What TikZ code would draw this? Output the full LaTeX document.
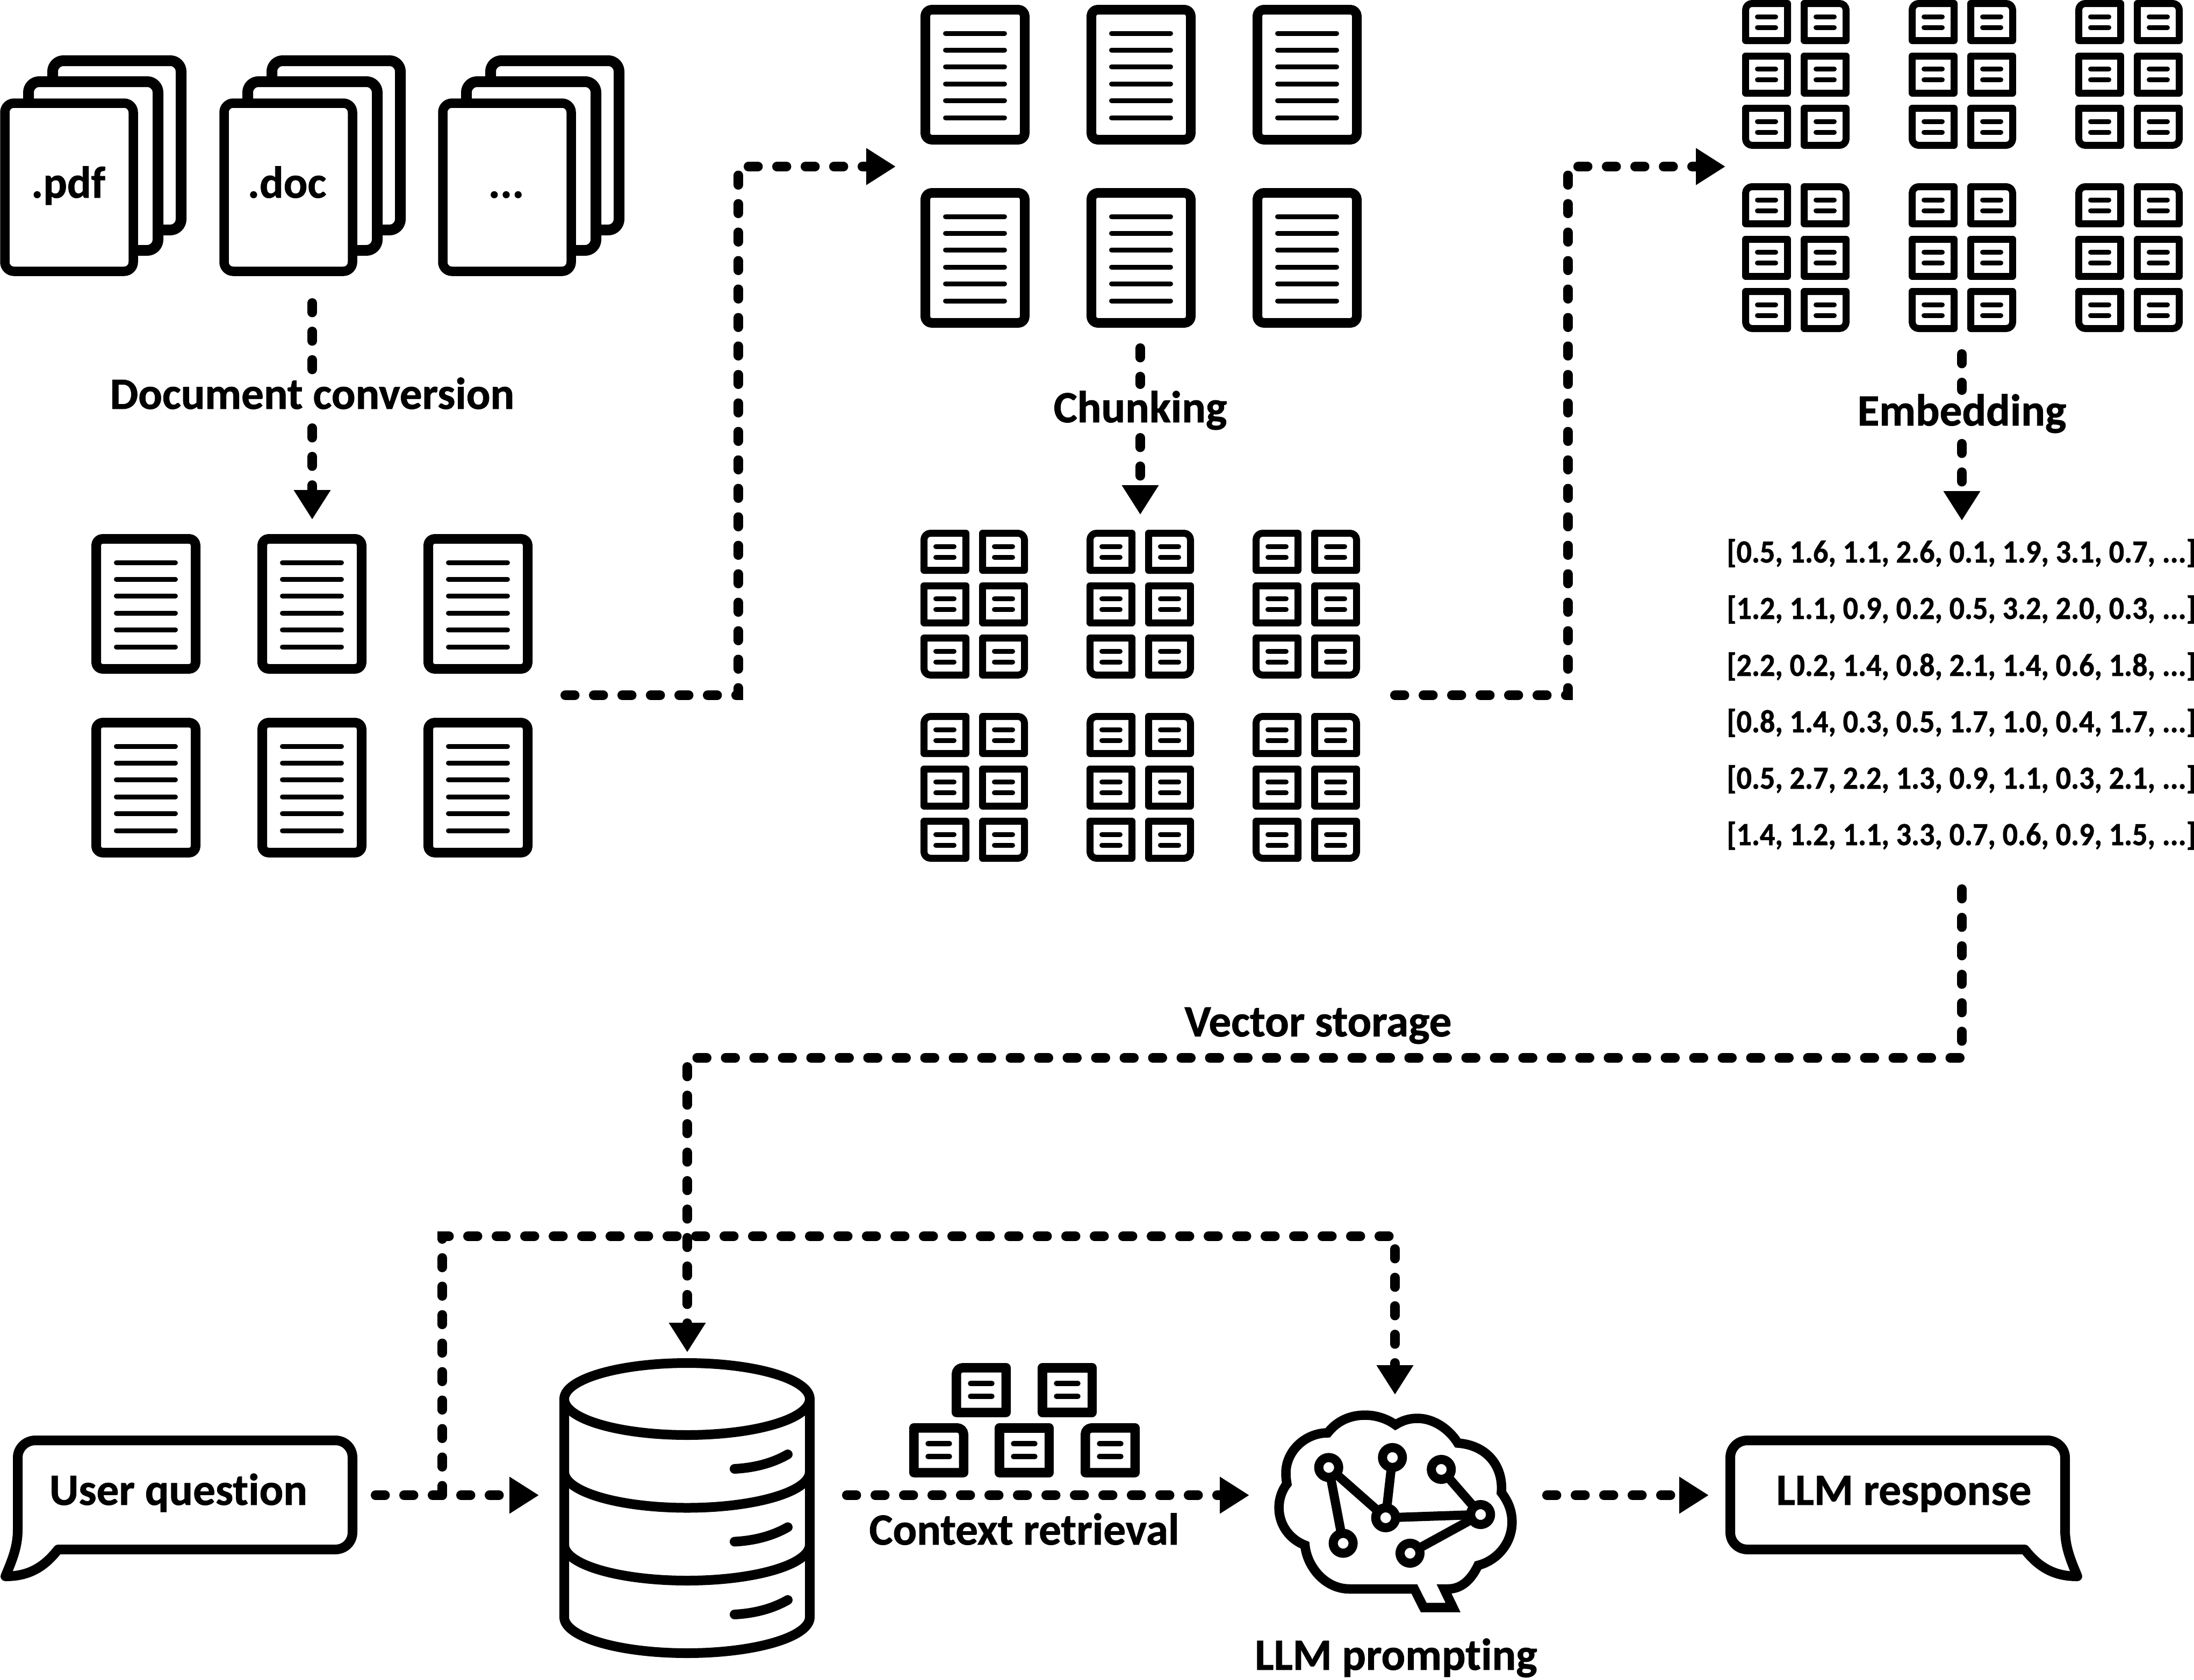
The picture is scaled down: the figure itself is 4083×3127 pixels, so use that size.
\documentclass[tikz,border=0pt]{standalone}
\usepackage{fontspec}
\setmainfont{Carlito}[Ligatures=NoCommon,BoldFeatures={FakeBold=1}]
\newfontfamily\vecf{Carlito}[Ligatures=NoCommon,BoldFeatures={FakeBold=1,FakeStretch=.935}]
\usetikzlibrary{arrows.meta}
\newcommand{\rr}[8]{({#1+#5},{#2}) -- ({#3-#6},{#2}) .. controls ({#3-.45*#6},{#2}) and ({#3},{#2+.45*#6}) .. ({#3},{#2+#6}) -- ({#3},{#4-#7}) .. controls ({#3},{#4-.45*#7}) and ({#3-.45*#7},{#4}) .. ({#3-#7},{#4}) -- ({#1+#8},{#4}) .. controls ({#1+.45*#8},{#4}) and ({#1},{#4-.45*#8}) .. ({#1},{#4-#8}) -- ({#1},{#2+#5}) .. controls ({#1},{#2+.45*#5}) and ({#1+.45*#5},{#2}) .. ({#1+#5},{#2}) -- cycle}
\newcommand{\cell}[6]{% left top tl tr br bl
  \draw[cellbox] \rr{#1+6.5}{#2+6.5}{#1+84.5}{#2+75.5}{#3}{#4}{#5}{#6};
  \draw[cellbar] ({#1+28.5},{#2+31}) -- ({#1+62.5},{#2+31});
  \draw[cellbar] ({#1+28.5},{#2+51}) -- ({#1+62.5},{#2+51});}
\newcommand{\ctxcell}[6]{%
  \draw[ctxbox] \rr{#1+8.75}{#2+8.75}{#1+101.25}{#2+92}{#3}{#4}{#5}{#6};
  \draw[ctxbar] ({#1+35},{#2+38}) -- ({#1+75},{#2+38});
  \draw[ctxbar] ({#1+35},{#2+62}) -- ({#1+75},{#2+62});}
\tikzset{
  x=.25pt,y=-.25pt,
  ink/.style={draw=black,line width=#1*.25pt},
  cellbox/.style={ink=13,line join=round,fill=white},
  cellbar/.style={ink=9,line cap=round},
  ctxbox/.style={ink=17.5,line join=round,fill=white},
  ctxbar/.style={ink=9.5,line cap=round},
  docbox/.style={ink=18,line join=round,fill=white},
  docbar/.style={ink=9,line cap=round},
  stackback/.style={ink=20,fill=white},
  stackfront/.style={ink=17.5,fill=white},
  flow/.style={line width=4.5pt,line cap=round,dash pattern=on 4.375pt off 8.875pt,black},
  flowto/.style={flow,-{Triangle[length=13.75pt,width=16.25pt]}},
  lab/.style={inner sep=0pt,anchor=base,font=\fontsize{20.8}{25}\selectfont\bfseries},
  vec/.style={inner sep=0pt,anchor=base,font=\vecf\fontsize{15}{18}\selectfont\bfseries},
  brainline/.style={ink=17.5,line join=miter},
  neuron/.style={ink=17,fill=white},
  bubble/.style={ink=18,line join=round,fill=white},
  barrel/.style={ink=18,line join=round,line cap=butt},
  docicon/.pic={
    \draw[docbox] \rr{9}{9}{194}{251}{12}{12}{12}{12};
    \foreach \ly in {53,84,115,147,178,210} \draw[docbar] (46.5,\ly) -- (156.5,\ly);
  },
  chunkgroup/.pic={
    \cell{0}{0}{12}{0}{0}{0}\cell{109}{0}{0}{12}{0}{0}
    \cell{0}{97.5}{0}{0}{0}{0}\cell{109}{97.5}{0}{0}{0}{0}
    \cell{0}{195}{0}{0}{0}{12}\cell{109}{195}{0}{0}{12}{0}
  },
  stack/.pic={
    \draw[stackback] \rr{98}{113}{337}{428}{20}{20}{20}{20};
    \draw[stackback] \rr{53}{152}{294}{466}{20}{20}{20}{20};
    \draw[stackfront] \rr{9}{192}{248}{505}{17}{17}{17}{17};
  },
}
\begin{document}
\begin{tikzpicture}
\useasboundingbox (0,0) rectangle (4083,3127);
\fill[white] (0,0) rectangle (4083,3127);

% --- source stacks
\pic at (0,0) {stack};
\pic at (408,0) {stack};
\pic at (815,0) {stack};
\node[lab] (pdf) at (127,368) {.pdf};
\node[lab] (docx) at (534,368) {.doc};
\node[lab] (etc) at (942,368) {...};

% --- converted documents
\foreach \dx in {170,479,788} \foreach \dy in {994,1336} \pic at (\dx,\dy) {docicon};
% --- chunk-stage documents
\foreach \dx in {1713,2022,2331} \foreach \dy in {9,350} \pic at (\dx,\dy) {docicon};
% --- chunk groups
\foreach \dx in {1713,2022,2331} \foreach \dy in {986,1327} \pic at (\dx,\dy) {chunkgroup};
\foreach \dx in {3242,3552,3862} \foreach \dy in {0,341} \pic at (\dx,\dy) {chunkgroup};

% --- vectors
\node[vec] (v1) at (3650,1047) {[0.5, 1.6, 1.1, 2.6, 0.1, 1.9, 3.1, 0.7, ...]};
\node[vec] (v2) at (3650,1152) {[1.2, 1.1, 0.9, 0.2, 0.5, 3.2, 2.0, 0.3, ...]};
\node[vec] (v3) at (3650,1258) {[2.2, 0.2, 1.4, 0.8, 2.1, 1.4, 0.6, 1.8, ...]};
\node[vec] (v4) at (3650,1363) {[0.8, 1.4, 0.3, 0.5, 1.7, 1.0, 0.4, 1.7, ...]};
\node[vec] (v5) at (3650,1468) {[0.5, 2.7, 2.2, 1.3, 0.9, 1.1, 0.3, 2.1, ...]};
\node[vec] (v6) at (3650,1573) {[1.4, 1.2, 1.1, 3.3, 0.7, 0.6, 0.9, 1.5, ...]};

% --- labels
\node[lab] (lconv) at (581,761) {Document conversion};
\node[lab] (lchunk) at (2122,786) {Chunking};
\node[lab] (lembed) at (3651,792) {Embedding};
\node[lab] (lstore) at (2453,1929) {Vector storage};
\node[lab] (lctx) at (1906,2875) {Context retrieval};
\node[lab] (lprompt) at (2598,3108) {LLM prompting};

% --- user question bubble
\draw[bubble] (66,2681) -- (624,2681) .. controls (642,2681) and (656,2695) .. (656,2713) -- (656,2852) .. controls (656,2870) and (642,2884) .. (624,2884) -- (108,2884) .. controls (80,2920) and (50,2934) .. (10,2934) .. controls (22,2905) and (33,2880) .. (33,2847) -- (33,2713) .. controls (33,2695) and (48,2681) .. (66,2681) -- cycle;
\node[lab] (quest) at (332,2801) {User question};

% --- LLM response bubble
\draw[bubble] (3810,2681) -- (3252,2681) .. controls (3234,2681) and (3220,2695) .. (3220,2713) -- (3220,2852) .. controls (3220,2870) and (3234,2884) .. (3252,2884) -- (3768,2884) .. controls (3796,2920) and (3826,2934) .. (3866,2934) .. controls (3854,2905) and (3843,2880) .. (3843,2847) -- (3843,2713) .. controls (3843,2695) and (3828,2681) .. (3810,2681) -- cycle;
\node[lab] (resp) at (3543,2801) {LLM response};

% --- database
\draw[barrel] (1050,2604) -- (1050,3010) arc[start angle=180,end angle=360,x radius=228.5,y radius=-67] -- (1507,2604);
\foreach \cy in {2739.5,2875} \draw[barrel] (1050,\cy) arc[start angle=180,end angle=360,x radius=228.5,y radius=-67];
\draw[barrel] (1278.5,2604) ellipse[x radius=228.5,y radius=67];
\foreach \dy in {0,135.5,271} \draw[ink=18,line cap=round] (1367,{2734+\dy}) .. controls (1405,{2732+\dy}) and (1438,{2723+\dy}) .. (1466,{2707+\dy});

% --- retrieved context
\ctxcell{1771}{2537}{12}{0}{0}{0}
\ctxcell{1931}{2537}{0}{0}{0}{0}
\ctxcell{1692}{2649}{0}{12}{0}{0}
\ctxcell{1851}{2649}{0}{0}{0}{0}
\ctxcell{2011}{2649}{12}{0}{0}{0}

% --- brain
\draw[brainline] (2596.8,2652) .. controls (2580,2640) and (2560,2634) .. (2540.3,2634) .. controls (2512,2634) and (2488,2645) .. (2470.8,2667) .. controls (2430,2667) and (2393,2700) .. (2393,2742) .. controls (2393,2750) and (2394,2757) .. (2394.9,2762) .. controls (2386,2773) and (2380,2790) .. (2380.2,2806) .. controls (2380,2840) and (2402,2866) .. (2428.5,2876) .. controls (2432,2915) and (2465,2957.5) .. (2511.5,2957.5) -- (2632,2957.5) -- (2649.4,2992) -- (2704,2992) -- (2687.4,2957.5) -- (2695,2957.5) .. controls (2720,2957.5) and (2738,2940) .. (2750.6,2913.6) .. controls (2785,2905) and (2814,2873) .. (2813.8,2833) .. controls (2814,2813) and (2807,2795) .. (2794,2778) .. controls (2798,2730) and (2768,2690) .. (2713,2686) .. controls (2697,2660) and (2668,2640) .. (2638,2640) .. controls (2622,2640) and (2610,2644) .. (2596.8,2652) -- cycle;
\coordinate (na) at (2472.7,2731.4);
\coordinate (nb) at (2591.3,2712.9);
\coordinate (nc) at (2682.2,2735);
\coordinate (nd) at (2578.7,2825);
\coordinate (ne) at (2755.3,2819);
\coordinate (nf) at (2499.6,2872.5);
\coordinate (ng) at (2624,2891);
\foreach \p/\q in {na/nf,na/nd,nb/nd,nc/ne,nd/ne,ne/ng} \draw[ink=17] (\p) -- (\q);
\foreach \p in {na,nb,nc,nd,ne,nf,ng} \draw[neuron] (\p) circle[radius=18.5];

% --- connector end points
\coordinate (c1a) at (581,564);   \coordinate (c1b) at (581,690);
\coordinate (c1c) at (581,797);   \coordinate (c1d) at (581,967);
\coordinate (c2a) at (1052,1294); \coordinate (c2b) at (1374,1294);
\coordinate (c2c) at (1374,310);  \coordinate (c2d) at (1667,310);
\coordinate (c3a) at (2122,648);  \coordinate (c3b) at (2122,715);
\coordinate (c3c) at (2122,815);  \coordinate (c3d) at (2122,958);
\coordinate (c4a) at (2596,1294); \coordinate (c4b) at (2918,1294);
\coordinate (c4c) at (2918,310);  \coordinate (c4d) at (3211,310);
\coordinate (c5a) at (3651,659);  \coordinate (c5b) at (3651,726);
\coordinate (c5c) at (3651,826);  \coordinate (c5d) at (3651,969);
\coordinate (c6a) at (3651,1655); \coordinate (c6b) at (3651,1969);
\coordinate (c6c) at (1279,1969); \coordinate (c6d) at (1279,2517);
\coordinate (c7a) at (699,2783);  \coordinate (c7b) at (1003,2783);
\coordinate (c7c) at (823,2783);  \coordinate (c7d) at (823,2301);
\coordinate (c7e) at (2596,2301); \coordinate (c7f) at (2596,2596);
\coordinate (c8a) at (1576,2783); \coordinate (c8b) at (2325,2783);
\coordinate (c9a) at (2879,2783); \coordinate (c9b) at (3180,2783);

% --- connectors
\draw[flow] (c1a) -- (c1b);
\draw[flowto] (c1c) -- (c1d);
\draw[flowto] (c2a) -- (c2b) -- (c2c) -- (c2d);
\draw[flow] (c3a) -- (c3b);
\draw[flowto] (c3c) -- (c3d);
\draw[flowto] (c4a) -- (c4b) -- (c4c) -- (c4d);
\draw[flow] (c5a) -- (c5b);
\draw[flowto] (c5c) -- (c5d);
\draw[flowto] (c6a) -- (c6b) -- (c6c) -- (c6d);
\draw[flowto] (c7a) -- (c7b);
\draw[flowto] (c7c) -- (c7d) -- (c7e) -- (c7f);
\draw[flowto] (c8a) -- (c8b);
\draw[flowto] (c9a) -- (c9b);
\end{tikzpicture}
\end{document}
